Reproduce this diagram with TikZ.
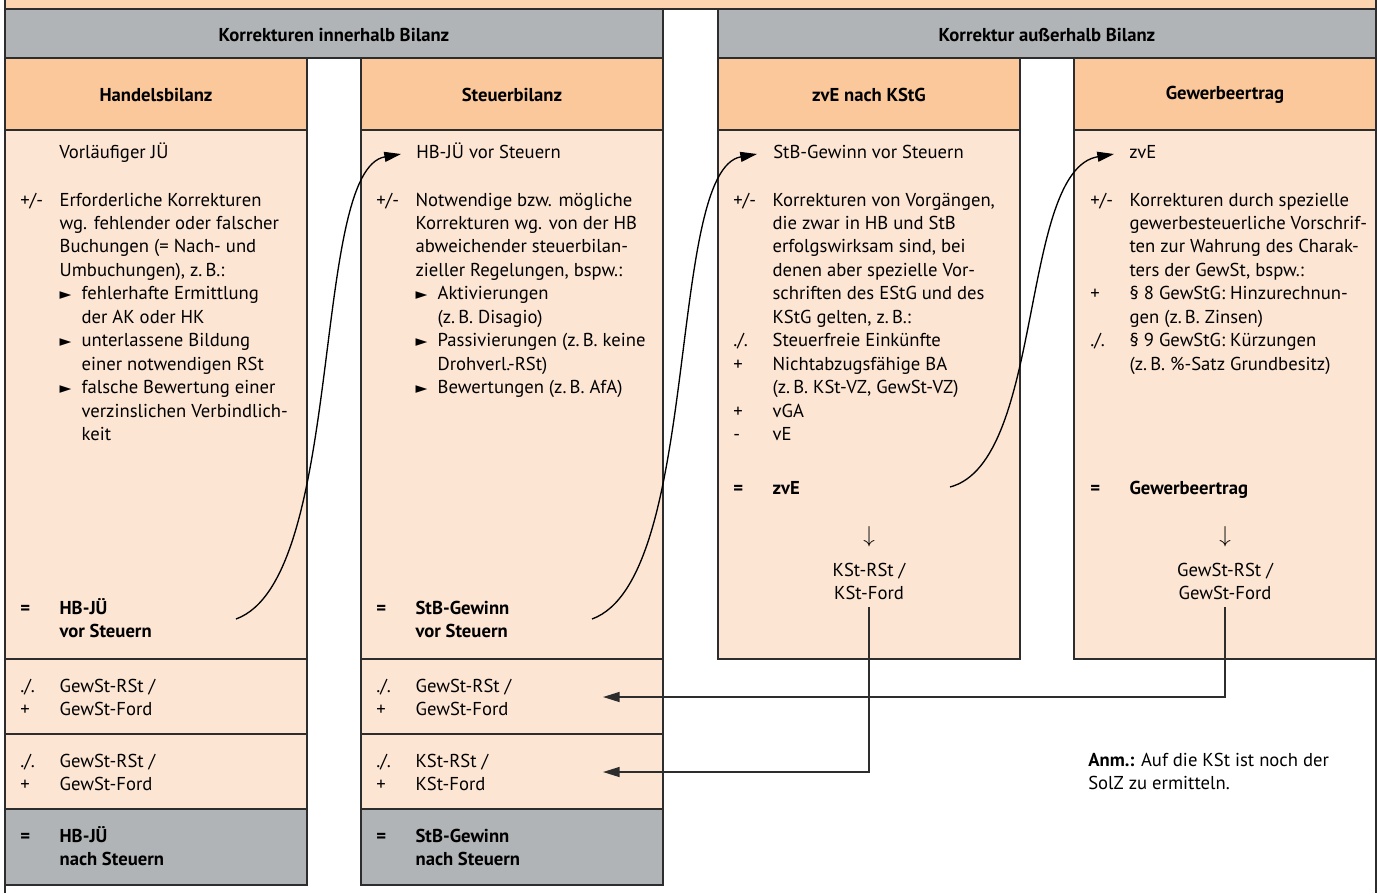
\documentclass[tikz,border=0pt]{standalone}
\usepackage{fontspec}
\setmainfont{PT Sans}
\newfontfamily\symfont{DejaVu Sans}
\usetikzlibrary{positioning}
\usetikzlibrary{arrows.meta}
\definecolor{myGray}{RGB}{177,180,182}
\definecolor{myOrange}{RGB}{251,200,155}
\definecolor{myTop}{RGB}{252,212,176}
\definecolor{myLight}{RGB}{253,229,211}
\definecolor{myLine}{RGB}{45,45,45}
\newcommand{\bodyfont}{\fontsize{14}{17.6}\selectfont}
\newcommand{\bul}{\makebox[16.5pt][l]{\symfont\fontsize{11.5}{11.5}\selectfont ►}}
\newcommand{\ind}{\hspace*{16.5pt}}

\begin{document}
\begin{tikzpicture}[x=0.75pt,y=-0.75pt,>={Triangle[length=12.5pt,width=7.5pt]},
  head box/.style={fill=myGray,draw=myLine,line width=1.1pt},
  title box/.style={fill=myOrange,draw=myLine,line width=1.1pt},
  body box/.style={fill=myLight,draw=myLine,line width=1.1pt},
  head text/.style={font=\bodyfont\bfseries,inner sep=0pt},
  txt/.style={anchor=base west,inner sep=0pt,font=\bodyfont},
  res txt/.style={anchor=base west,inner sep=0pt,font=\bodyfont\bfseries},
  mid txt/.style={anchor=base,inner sep=0pt,font=\bodyfont},
  down/.style={inner sep=0pt,font=\fontsize{19}{19}\selectfont},
  link/.style={->,line width=1pt,black},
  elbow/.style={->,line width=1.2pt,myLine}]

\useasboundingbox (0,0) rectangle (1380,893);

% frame and header bands
\path[fill=myTop] (5,0) rectangle (1376,9);
\draw[myLine,line width=1.1pt] (5,0) -- (5,893) (1376,0) -- (1376,893) (5,9) -- (1376,9);
\path[head box] (5,9) rectangle (663,58);
\path[head box] (718,9) rectangle (1376,58);
\node[head text] (inner) at (334,35) {Korrekturen innerhalb Bilanz};
\node[head text] (outer) at (1047,35) {Korrektur außerhalb Bilanz};

% column titles
\path[title box] (5,58) rectangle (307,130);
\path[title box] (361,58) rectangle (663,130);
\path[title box] (718,58) rectangle (1020,130);
\path[title box] (1074,58) rectangle (1376,130);
\node[head text] (hbTitle) at (156,95) {Handelsbilanz};
\node[head text] (sbTitle) at (512,95) {Steuerbilanz};
\node[head text] (kstTitle) at (869,95) {zvE nach KStG};
\node[head text] (gewTitle) at (1225,95) {Gewerbeertrag};

% bodies
\path[body box] (5,130) rectangle (307,659);
\path[body box] (361,130) rectangle (663,659);
\path[body box] (718,130) rectangle (1020,659);
\path[body box] (1074,130) rectangle (1376,659);
\path[body box] (5,659) rectangle (307,734);
\path[body box] (361,659) rectangle (663,734);
\path[body box] (5,734) rectangle (307,809);
\path[body box] (361,734) rectangle (663,809);
\path[head box] (5,809) rectangle (307,885);
\path[head box] (361,809) rectangle (663,885);

% Handelsbilanz
\node[txt] (hbStart) at (59,158) {Vorläufiger JÜ};
\node[txt] (hbBody) at (20,206) {\begin{tabular}[t]{@{}p{29.5pt}@{}l@{}}
+/- & Erforderliche Korrekturen\\
 & wg. fehlender oder falscher\\
 & Buchungen (= Nach- und\\
 & Umbuchungen), z.\,B.:\\
 & \bul fehlerhafte Ermittlung\\
 & \ind der AK oder HK\\
 & \bul unterlassene Bildung\\
 & \ind einer notwendigen RSt\\
 & \bul falsche Bewertung einer\\
 & \ind verzinslichen Verbindlich-\\
 & \ind keit
\end{tabular}};
\node[res txt] (hbPre) at (20,614) {\begin{tabular}[t]{@{}p{29.5pt}@{}l@{}}
= & HB-JÜ\\ & vor Steuern\end{tabular}};
\node[txt] (hbGew) at (20,692) {\begin{tabular}[t]{@{}p{29.5pt}@{}l@{}}
./. & GewSt-RSt /\\ + & GewSt-Ford\end{tabular}};
\node[txt] (hbGew2) at (20,767) {\begin{tabular}[t]{@{}p{29.5pt}@{}l@{}}
./. & GewSt-RSt /\\ + & GewSt-Ford\end{tabular}};
\node[res txt] (hbPost) at (20,842) {\begin{tabular}[t]{@{}p{29.5pt}@{}l@{}}
= & HB-JÜ\\ & nach Steuern\end{tabular}};

% Steuerbilanz
\node[txt] (sbStart) at (416,158) {HB-JÜ vor Steuern};
\node[txt] (sbBody) at (376,206) {\begin{tabular}[t]{@{}p{29.5pt}@{}l@{}}
+/- & Notwendige bzw. mögliche\\
 & Korrekturen wg. von der HB\\
 & abweichender steuerbilan-\\
 & zieller Regelungen, bspw.:\\
 & \bul Aktivierungen\\
 & \ind (z.\,B. Disagio)\\
 & \bul Passivierungen (z.\,B. keine\\
 & \ind Drohverl.-RSt)\\
 & \bul Bewertungen (z.\,B. AfA)
\end{tabular}};
\node[res txt] (sbPre) at (376,614) {\begin{tabular}[t]{@{}p{29.5pt}@{}l@{}}
= & StB-Gewinn\\ & vor Steuern\end{tabular}};
\node[txt] (sbGew) at (376,692) {\begin{tabular}[t]{@{}p{29.5pt}@{}l@{}}
./. & GewSt-RSt /\\ + & GewSt-Ford\end{tabular}};
\node[txt] (sbKst) at (376,767) {\begin{tabular}[t]{@{}p{29.5pt}@{}l@{}}
./. & KSt-RSt /\\ + & KSt-Ford\end{tabular}};
\node[res txt] (sbPost) at (376,842) {\begin{tabular}[t]{@{}p{29.5pt}@{}l@{}}
= & StB-Gewinn\\ & nach Steuern\end{tabular}};

% zvE nach KStG
\node[txt] (kstStart) at (773,158) {StB-Gewinn vor Steuern};
\node[txt] (kstBody) at (733,206) {\begin{tabular}[t]{@{}p{29.5pt}@{}l@{}}
+/- & Korrekturen von Vorgängen,\\
 & die zwar in HB und StB\\
 & erfolgswirksam sind, bei\\
 & denen aber spezielle Vor-\\
 & schriften des EStG und des\\
 & KStG gelten, z.\,B.:\\
./. & Steuerfreie Einkünfte\\
+ & Nichtabzugsfähige BA\\
 & (z.\,B. KSt-VZ, GewSt-VZ)\\
+ & vGA\\
- & vE
\end{tabular}};
\node[res txt] (kstRes) at (733,494) {\begin{tabular}[t]{@{}p{29.5pt}@{}l@{}}
= & zvE\end{tabular}};
\node[down] (kstDown) at (869,537) {$\downarrow$};
\node[mid txt] (kstTax) at (869,576) {\begin{tabular}[t]{@{}c@{}}
KSt-RSt /\\ KSt-Ford\end{tabular}};

% Gewerbeertrag
\node[txt] (gewStart) at (1129,158) {zvE};
\node[txt] (gewBody) at (1090,206) {\begin{tabular}[t]{@{}p{29.5pt}@{}l@{}}
+/- & Korrekturen durch spezielle\\
 & gewerbesteuerliche Vorschrif-\\
 & ten zur Wahrung des Charak-\\
 & ters der GewSt, bspw.:\\
+ & § 8 GewStG: Hinzurechnun-\\
 & gen (z.\,B. Zinsen)\\
./. & § 9 GewStG: Kürzungen\\
 & (z.\,B. \%-Satz Grundbesitz)
\end{tabular}};
\node[res txt] (gewRes) at (1090,494) {\begin{tabular}[t]{@{}p{29.5pt}@{}l@{}}
= & Gewerbeertrag\end{tabular}};
\node[down] (gewDown) at (1225,537) {$\downarrow$};
\node[mid txt] (gewTax) at (1225,576) {\begin{tabular}[t]{@{}c@{}}
GewSt-RSt /\\ GewSt-Ford\end{tabular}};

\node[txt] (note) at (1088,766) {\begin{tabular}[t]{@{}l@{}}
\textbf{Anm.:} Auf die KSt ist noch der\\ SolZ zu ermitteln.\end{tabular}};

% carry-over arrows
\coordinate (hbOut) at (236,619);
\coordinate (sbIn) at (401,154);
\coordinate (sbOut) at (592,619);
\coordinate (kstIn) at (757,154);
\coordinate (kstOut) at (950,487);
\coordinate (gewIn) at (1114,154);
\coordinate (gewTip) at (603,697);
\coordinate (kstTip) at (603,772);
\draw[link] (hbOut) .. controls +(110,-40) and +(-91,16) .. (sbIn);
\draw[link] (sbOut) .. controls +(110,-40) and +(-91,16) .. (kstIn);
\draw[link] (kstOut) .. controls +(95,-25) and +(-95,16) .. (gewIn);
\draw[elbow] (gewTax.south) |- (gewTip);
\draw[elbow] (kstTax.south) |- (kstTip);

\end{tikzpicture}
\end{document}
